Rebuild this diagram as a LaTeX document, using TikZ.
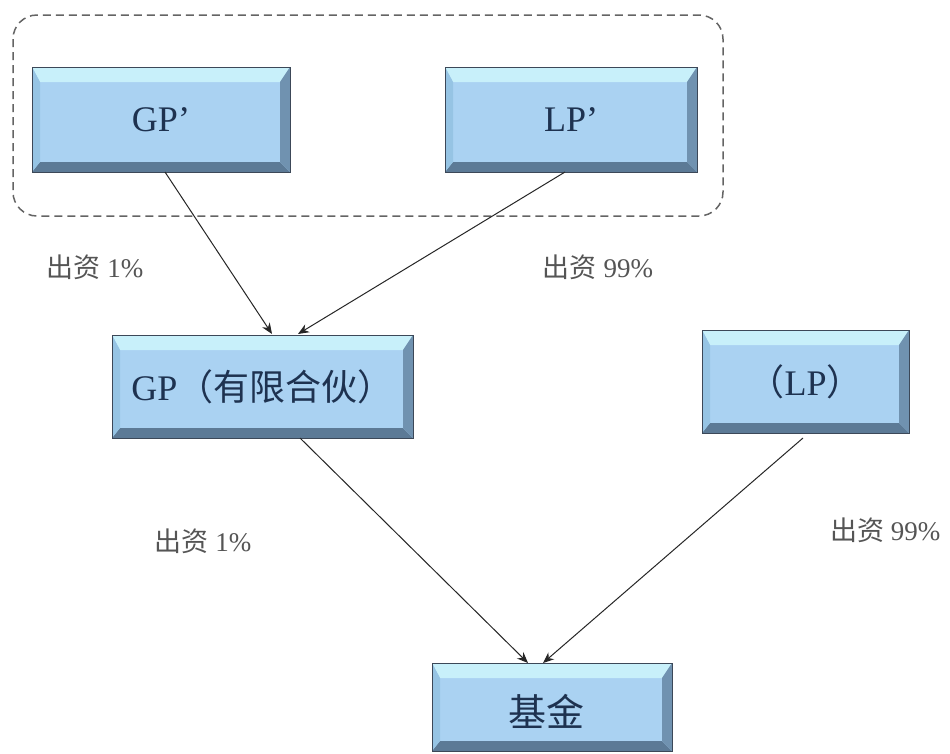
\documentclass[tikz,border=0pt]{standalone}
\usepackage{fontspec}
\setmainfont{Liberation Serif}
\newfontfamily\cjk{Noto Sans CJK SC}
\usetikzlibrary{arrows.meta}
\definecolor{boxfill}{RGB}{170,210,242}
\definecolor{boxtop}{RGB}{200,240,250}
\definecolor{boxbot}{RGB}{92,122,150}
\definecolor{boxright}{RGB}{112,146,176}
\definecolor{boxleft}{RGB}{150,196,228}
\definecolor{boxline}{RGB}{60,72,88}
\definecolor{boxtext}{RGB}{30,50,80}
\definecolor{lbl}{RGB}{85,85,85}
\definecolor{dashc}{RGB}{100,100,100}
\tikzset{
  bevbox/.style={draw=boxline, line width=0.8pt, fill=boxfill, inner sep=0pt,
    text=boxtext, font=\fontsize{36}{40}\selectfont,
    path picture={
      \coordinate (nw) at (path picture bounding box.north west);
      \coordinate (ne) at (path picture bounding box.north east);
      \coordinate (sw) at (path picture bounding box.south west);
      \coordinate (se) at (path picture bounding box.south east);
      \fill[boxtop] (nw) -- (ne) -- ([xshift=-10pt,yshift=-15pt]ne) -- ([xshift=8pt,yshift=-15pt]nw) -- cycle;
      \fill[boxbot] (sw) -- (se) -- ([xshift=-10pt,yshift=10pt]se) -- ([xshift=8pt,yshift=10pt]sw) -- cycle;
      \fill[boxright] (ne) -- (se) -- ([xshift=-10pt,yshift=10pt]se) -- ([xshift=-10pt,yshift=-15pt]ne) -- cycle;
      \fill[boxleft] (nw) -- (sw) -- ([xshift=8pt,yshift=10pt]sw) -- ([xshift=8pt,yshift=-15pt]nw) -- cycle;
    }},
  lblnode/.style={text=lbl, font=\fontsize{27}{30}\selectfont, inner sep=0pt},
  conn/.style={draw=black!85, line width=1pt, -{Stealth[length=11pt,width=9pt]}},
}
\begin{document}
\begin{tikzpicture}[x=1pt,y=-1pt]
\useasboundingbox (0,0) rectangle (950,753);
\fill[white] (0,0) rectangle (950,753);
% dashed group
\draw[dashc, line width=1.5pt, dash pattern=on 8pt off 5pt, rounded corners=24pt] (13,15) rectangle (723,216);
% boxes
\node[bevbox, minimum width=258pt, minimum height=105pt] (gpp) at (161,119.5) {GP’};
\node[bevbox, minimum width=252pt, minimum height=105pt] (lpp) at (571,119.5) {LP’};
\node[bevbox, minimum width=301pt, minimum height=103pt] (gpl) at (262.5,386.5) {GP{\cjk （有限合伙）}};
\node[bevbox, minimum width=207pt, minimum height=103pt] (lp) at (805.5,381.5) {{\cjk （}LP{\cjk ）}};
\node[bevbox, minimum width=240pt, minimum height=88pt] (fund) at (552,707) {};
\node[text=boxtext, font=\cjk\fontsize{38}{42}\selectfont, inner sep=0pt] (fundtxt) at (546,711) {基金};
% anchors for arrow ends
\coordinate (t1) at (272,334);
\coordinate (t2) at (298,334);
\coordinate (t3) at (528,663);
\coordinate (t4) at (543,663);
\coordinate (s1) at (165,172);
\coordinate (s2) at (565,172);
\coordinate (s3) at (300,438);
\coordinate (s4) at (803,438);
\draw[conn] (s1) -- (t1);
\draw[conn] (s2) -- (t2);
\draw[conn] (s3) -- (t3);
\draw[conn] (s4) -- (t4);
% labels
\node[lblnode] (l1) at (95,267) {{\cjk 出资} 1\%};
\node[lblnode] (l2) at (598,267) {{\cjk 出资} 99\%};
\node[lblnode] (l3) at (203,541) {{\cjk 出资} 1\%};
\node[lblnode, anchor=west] (l4) at (830,530) {{\cjk 出资} 99\%};
\end{tikzpicture}
\end{document}
